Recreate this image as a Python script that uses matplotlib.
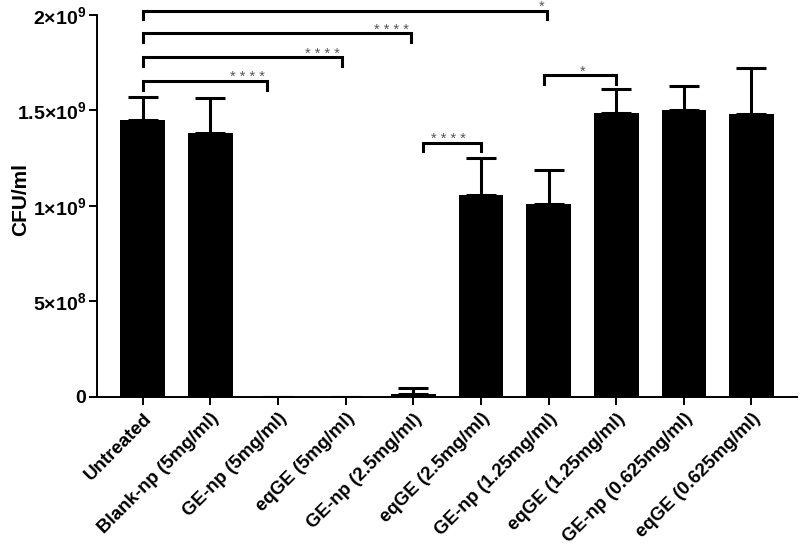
import numpy as np
from matplotlib import pyplot as plt

plt.rcParams['font.family'] = ['Liberation Sans', 'DejaVu Sans']
plt.rcParams['mathtext.fontset'] = 'custom'
plt.rcParams['mathtext.rm'] = 'Liberation Sans'
plt.rcParams['mathtext.bf'] = 'Liberation Sans:bold'

groups = ['Untreated', 'Blank-np (5mg/ml)', 'GE-np (5mg/ml)', 'eqGE (5mg/ml)',
          'GE-np (2.5mg/ml)', 'eqGE (2.5mg/ml)', 'GE-np (1.25mg/ml)',
          'eqGE (1.25mg/ml)', 'GE-np (0.625mg/ml)', 'eqGE (0.625mg/ml)']
cfu = [1.45e9, 1.38e9, 0.0, 0.0, 0.018e9, 1.055e9, 1.01e9, 1.485e9, 1.50e9, 1.48e9]
sd = [0.12e9, 0.185e9, 0.0, 0.0, 0.028e9, 0.195e9, 0.178e9, 0.13e9, 0.13e9, 0.245e9]

yticks = [0, 5e8, 1e9, 1.5e9, 2e9]
ytick_labels = ['0', r'$\mathbf{5{\times}10^8}$', r'$\mathbf{1{\times}10^9}$',
                r'$\mathbf{1.5{\times}10^9}$', r'$\mathbf{2{\times}10^9}$']

# significance brackets: left pos, right pos, height, stars
sig_left = [0, 0, 0, 0, 4.14, 5.93]
sig_right = [1.83, 2.95, 3.97, 5.97, 5.0, 7.0]
sig_y = [1.654e9, 1.778e9, 1.904e9, 2.022e9, 1.332e9, 1.686e9]
sig_text = ['* * * *', '* * * *', '* * * *', '*', '* * * *', '*']
sig_text_x = [1.8, 2.92, 3.94, 5.9, 4.78, 6.5]

fig = plt.figure(figsize=(8, 5.56), dpi=100)
ax = fig.add_axes([0.121, 0.286, 0.875, 0.7104])

x = np.arange(len(groups))
ax.bar(x, cfu, width=0.66, color='black', zorder=2)
ax.errorbar(x, cfu, yerr=[np.zeros(len(sd)), sd], fmt='none', ecolor='black',
            elinewidth=2.2, capsize=11, capthick=2.2, zorder=1)

drop = 0.045e9
for l, r, h, t, tx in zip(sig_left, sig_right, sig_y, sig_text, sig_text_x):
    ax.plot([l, l, r, r], [h - drop, h, h, h - drop], color='black', lw=2.2,
            solid_joinstyle='miter', clip_on=False)
    ax.text(tx, h - 0.002e9, t, ha='right' if len(t) > 1 else 'center',
            va='baseline', fontsize=10.5, color='#555555', clip_on=False)

ax.set_xlim(-0.68, 9.67)
ax.set_ylim(0, 2.068e9)
ax.spines['top'].set_visible(False)
ax.spines['right'].set_visible(False)
ax.spines['left'].set_bounds(0, 2e9)
ax.spines['left'].set_linewidth(1.4)
ax.spines['bottom'].set_linewidth(1.4)

ax.set_yticks(yticks)
ax.set_yticklabels(ytick_labels, fontsize=14, fontweight='bold')
ax.set_xticks(x)
ax.set_xticklabels(groups, rotation=45, ha='right', va='top',
                   rotation_mode='anchor', fontsize=13.5, fontweight='bold')
ax.tick_params(axis='both', width=1.4, length=6)
ax.tick_params(axis='y', pad=1.5)
ax.set_ylabel('CFU/ml', fontsize=15, fontweight='bold')
ax.yaxis.set_label_coords(-0.095, 0.5)

fig.savefig('out.png', dpi=100)
